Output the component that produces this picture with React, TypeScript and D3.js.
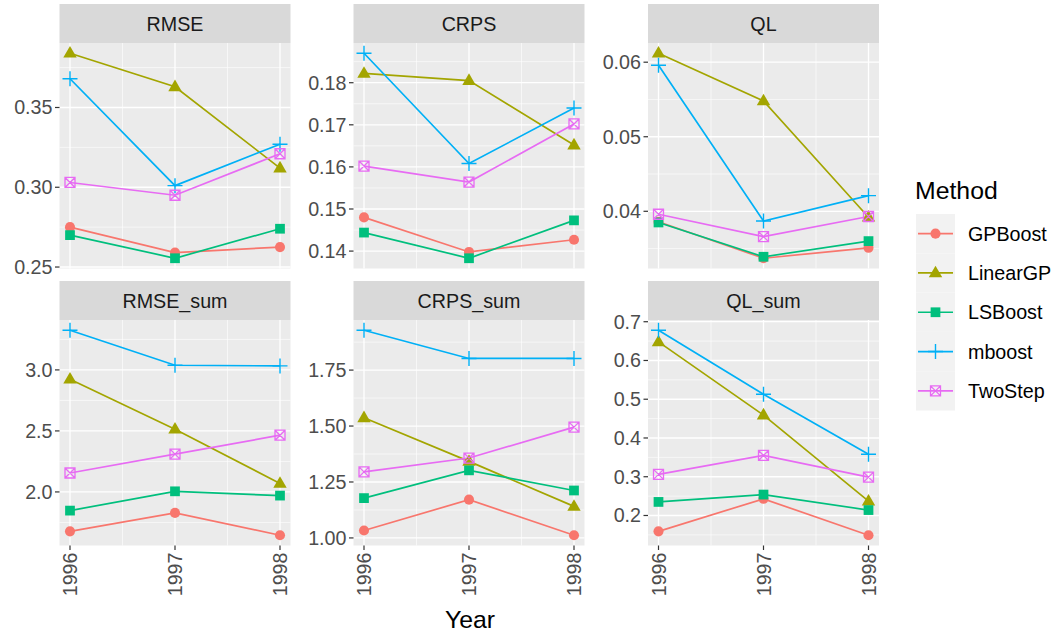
import React from "react";
import * as d3 from "d3";

const years = [1996, 1997, 1998];
const methods = ["GPBoost", "LinearGP", "LSBoost", "mboost", "TwoStep"];
const methodColors = ["#F8766D", "#A3A500", "#00BF7D", "#00B0F6", "#E76BF3"];
const methodShapes = ["circle", "triangle", "square", "plus", "boxcross"];
const panelNames = ["RMSE", "CRPS", "QL", "RMSE_sum", "CRPS_sum", "QL_sum"];

// values per method, in order of `methods`, across years 1996..1998
const rmseValues = [
  [0.275, 0.259, 0.2625],
  [0.384, 0.363, 0.312],
  [0.27, 0.2555, 0.274],
  [0.368, 0.301, 0.327],
  [0.303, 0.295, 0.321],
];
const crpsValues = [
  [0.148, 0.1398, 0.1427],
  [0.1822, 0.1805, 0.1652],
  [0.1444, 0.1383, 0.1473],
  [0.187, 0.1608, 0.174],
  [0.1602, 0.1564, 0.1702],
];
const qlValues = [
  [0.0386, 0.0337, 0.0351],
  [0.0612, 0.0548, 0.0392],
  [0.0385, 0.0339, 0.036],
  [0.0596, 0.0387, 0.0421],
  [0.0396, 0.0366, 0.0393],
];
const rmseSumValues = [
  [1.677, 1.828, 1.645],
  [2.924, 2.514, 2.07],
  [1.847, 2.005, 1.97],
  [3.325, 3.038, 3.033],
  [2.155, 2.31, 2.465],
];
const crpsSumValues = [
  [1.033, 1.171, 1.012],
  [1.537, 1.342, 1.141],
  [1.178, 1.302, 1.212],
  [1.928, 1.802, 1.802],
  [1.295, 1.357, 1.495],
];
const qlSumValues = [
  [0.159, 0.243, 0.149],
  [0.648, 0.459, 0.237],
  [0.235, 0.254, 0.214],
  [0.678, 0.513, 0.358],
  [0.306, 0.355, 0.299],
];

const rmseTicks = ["0.25", "0.30", "0.35"];
const crpsTicks = ["0.14", "0.15", "0.16", "0.17", "0.18"];
const qlTicks = ["0.04", "0.05", "0.06"];
const rmseSumTicks = ["2.0", "2.5", "3.0"];
const crpsSumTicks = ["1.00", "1.25", "1.50", "1.75"];
const qlSumTicks = ["0.2", "0.3", "0.4", "0.5", "0.6", "0.7"];
const yearTicks = ["1996", "1997", "1998"];

const panelValues = [rmseValues, crpsValues, qlValues, rmseSumValues, crpsSumValues, qlSumValues];
const panelTicks = [rmseTicks, crpsTicks, qlTicks, rmseSumTicks, crpsSumTicks, qlSumTicks];

const W = 1055;
const H = 635;
const colLeft = [59.5, 353.5, 648];
const panelW = 231;
const stripTop = [4, 281];
const stripH = 39;
const panelH = 225.5;
const FONT = "Liberation Sans, Arial, sans-serif";
const small = 19.7;
const large = 24.8;

function Marker({ shape, color, x, y }: { shape: string; color: string; x: number; y: number }) {
  if (shape === "circle") {
    return <path d={d3.symbol(d3.symbolCircle, 80)()!} transform={`translate(${x},${y})`} fill={color} />;
  }
  if (shape === "triangle") {
    return <path d={d3.symbol(d3.symbolTriangle, 78)()!} transform={`translate(${x},${y + 0.5})`} fill={color} />;
  }
  if (shape === "square") {
    return <path d={d3.symbol(d3.symbolSquare, 95)()!} transform={`translate(${x},${y})`} fill={color} />;
  }
  if (shape === "plus") {
    const a = 7.5;
    return (
      <path
        d={`M${x - a},${y}H${x + a}M${x},${y - a}V${y + a}`}
        stroke={color}
        strokeWidth={1.4}
        fill="none"
      />
    );
  }
  const s = 5;
  return (
    <path
      d={`M${x - s},${y - s}H${x + s}V${y + s}H${x - s}Z M${x - s},${y - s}L${x + s},${y + s}M${x + s},${y - s}L${x - s},${y + s}`}
      stroke={color}
      strokeWidth={1.3}
      fill="none"
    />
  );
}

function Panel({ idx }: { idx: number }) {
  const col = idx % 3;
  const row = Math.floor(idx / 3);
  const left = colLeft[col];
  const sTop = stripTop[row];
  const top = sTop + stripH;
  const bottom = top + panelH;
  const values = panelValues[idx];
  const tickLabels = panelTicks[idx];
  const tickVals = tickLabels.map(Number);

  const all = values.flat();
  const [mn, mx] = d3.extent(all) as [number, number];
  const pad = (mx - mn) * 0.05;
  const y = d3.scaleLinear().domain([mn - pad, mx + pad]).range([bottom, top]);
  const x = d3.scaleLinear().domain([years[0] - 0.1, years[years.length - 1] + 0.1]).range([left, left + panelW]);

  const step = tickVals[1] - tickVals[0];
  const minors: number[] = [];
  for (let i = -1; i < tickVals.length; i++) {
    const v = tickVals[0] + step * (i + 0.5);
    if (v >= mn - pad && v <= mx + pad) minors.push(v);
  }
  const xMinors = years.slice(0, -1).map((yr) => yr + 0.5);

  const line = d3
    .line<number>()
    .x((_, i) => x(years[i]))
    .y((d) => y(d));

  return (
    <g>
      <rect x={left} y={sTop} width={panelW} height={stripH} fill="#D9D9D9" />
      <text
        x={left + panelW / 2}
        y={sTop + stripH / 2 + 7}
        textAnchor="middle"
        fontSize={small}
        fill="#1A1A1A"
        fontFamily={FONT}
      >
        {panelNames[idx]}
      </text>
      <rect x={left} y={top} width={panelW} height={panelH} fill="#EBEBEB" />
      {minors.map((v, i) => (
        <line key={"ym" + i} x1={left} x2={left + panelW} y1={y(v)} y2={y(v)} stroke="#fff" strokeWidth={0.6} />
      ))}
      {xMinors.map((v, i) => (
        <line key={"xm" + i} x1={x(v)} x2={x(v)} y1={top} y2={bottom} stroke="#fff" strokeWidth={0.6} />
      ))}
      {tickVals.map((v, i) => (
        <line key={"yM" + i} x1={left} x2={left + panelW} y1={y(v)} y2={y(v)} stroke="#fff" strokeWidth={1.3} />
      ))}
      {years.map((v, i) => (
        <line key={"xM" + i} x1={x(v)} x2={x(v)} y1={top} y2={bottom} stroke="#fff" strokeWidth={1.3} />
      ))}
      {values.map((vals, m) => (
        <path key={"l" + m} d={line(vals)!} stroke={methodColors[m]} strokeWidth={1.7} fill="none" />
      ))}
      {values.map((vals, m) =>
        vals.map((v, i) => (
          <Marker key={"p" + m + "-" + i} shape={methodShapes[m]} color={methodColors[m]} x={x(years[i])} y={y(v)} />
        ))
      )}
      {tickVals.map((v, i) => (
        <g key={"yt" + i}>
          <line x1={left - 4.5} x2={left} y1={y(v)} y2={y(v)} stroke="#333333" strokeWidth={1.2} />
          <text
            x={left - 7}
            y={y(v) + 7}
            textAnchor="end"
            fontSize={small}
            fill="#4D4D4D"
            fontFamily={FONT}
          >
            {tickLabels[i]}
          </text>
        </g>
      ))}
      {row === 1 &&
        years.map((v, i) => (
          <g key={"xt" + i}>
            <line x1={x(v)} x2={x(v)} y1={bottom} y2={bottom + 4.5} stroke="#333333" strokeWidth={1.2} />
            <text
              transform={`translate(${x(v) + 7},${bottom + 7}) rotate(-90)`}
              textAnchor="end"
              fontSize={small}
              fill="#4D4D4D"
              fontFamily={FONT}
            >
              {yearTicks[i]}
            </text>
          </g>
        ))}
    </g>
  );
}

export default function App() {
  const legendX = 916;
  const keyTop = 214;
  const keyH = 39.3;
  const keyW = 39;
  return (
    <svg width={W} height={H} style={{ position: "absolute", left: 0, top: 0, background: "#fff" }}>
      <rect width={W} height={H} fill="#fff" />
      {panelNames.map((_, i) => (
        <Panel key={i} idx={i} />
      ))}
      <text x={470} y={628} textAnchor="middle" fontSize={large} fill="#000" fontFamily={FONT}>
        Year
      </text>
      <text x={legendX - 1} y={199} fontSize={large} fill="#000" fontFamily={FONT}>
        Method
      </text>
      {methods.map((m, i) => {
        const cy = keyTop + keyH * i + keyH / 2;
        return (
          <g key={m}>
            <rect x={legendX} y={keyTop + keyH * i} width={keyW} height={keyH} fill="#F2F2F2" />
            <line x1={legendX + 2} x2={legendX + keyW - 2} y1={cy} y2={cy} stroke={methodColors[i]} strokeWidth={1.7} />
            <Marker shape={methodShapes[i]} color={methodColors[i]} x={legendX + keyW / 2} y={cy} />
            <text x={968} y={cy + 7} fontSize={small} fill="#000" fontFamily={FONT}>
              {m}
            </text>
          </g>
        );
      })}
    </svg>
  );
}
